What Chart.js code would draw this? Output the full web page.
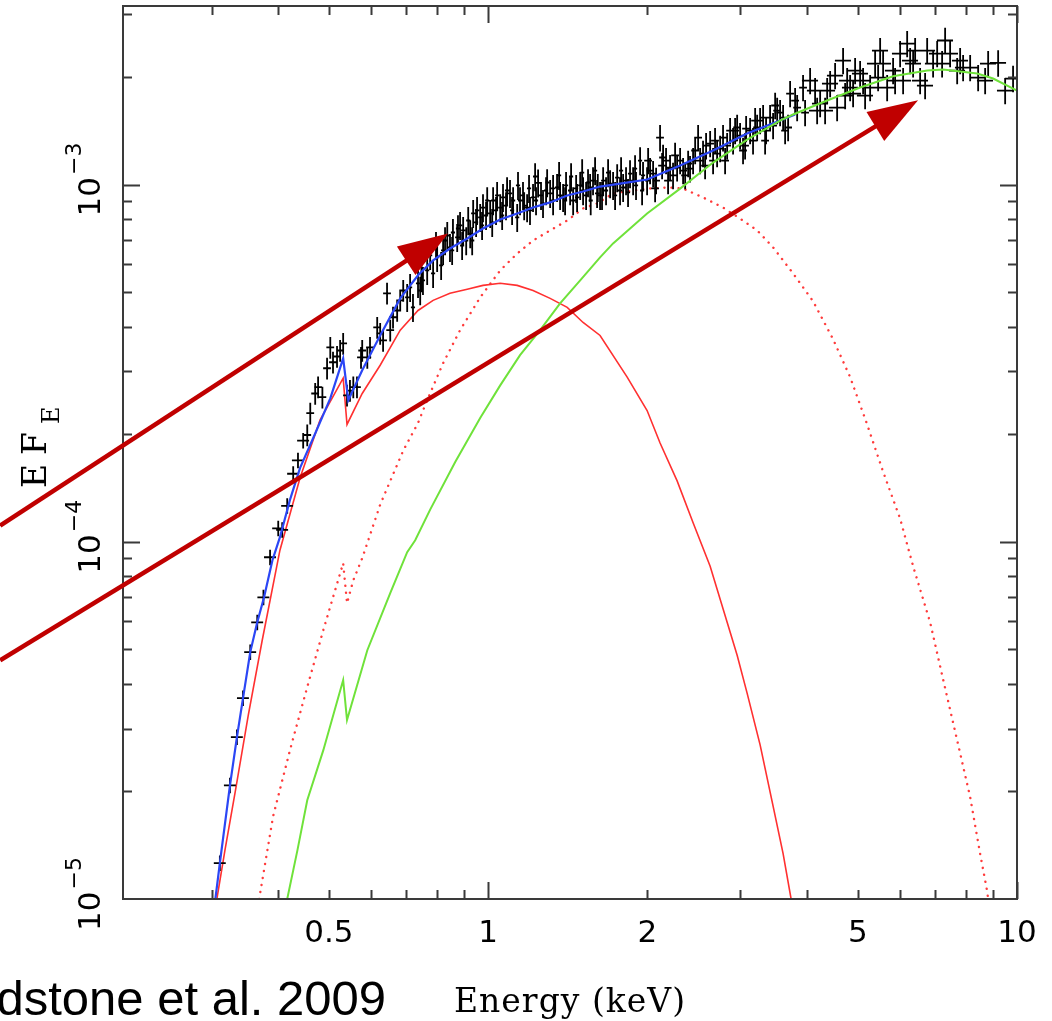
<!DOCTYPE html>
<html>
<head>
<meta charset="utf-8">
<title>EF_E spectrum</title>
<script src="https://cdn.jsdelivr.net/npm/chart.js@4.4.1/dist/chart.umd.min.js"></script>
<style>
  html, body { margin: 0; padding: 0; background: #fff; }
  canvas { display: block; }
</style>
</head>
<body>
<canvas id="spec" width="1052" height="1021"></canvas>
<script>
/* global Chart */

// Observed spectrum (energy keV, E F_E)
const dataE = [0.311, 0.325, 0.335, 0.344, 0.355, 0.366, 0.376, 0.387, 0.401, 0.408, 0.417, 0.428, 0.437, 0.447, 0.455, 0.461, 0.471, 0.477, 0.486, 0.496,
  0.503, 0.509, 0.518, 0.525, 0.532, 0.541, 0.548, 0.556, 0.565, 0.575, 0.578, 0.591, 0.598, 0.617, 0.625, 0.633, 0.644, 0.653, 0.661, 0.673,
  0.682, 0.691, 0.703, 0.712, 0.721, 0.737, 0.744, 0.748, 0.753, 0.767, 0.787, 0.801, 0.822, 0.829, 0.847, 0.858, 0.874, 0.885, 0.897, 0.909,
  0.925, 0.937, 0.949, 0.966, 0.978, 0.991, 1.009, 1.022, 1.035, 1.054, 1.067, 1.081, 1.100, 1.115, 1.135, 1.149, 1.164, 1.185, 1.200, 1.216,
  1.232, 1.243, 1.270, 1.287, 1.310, 1.327, 1.350, 1.368, 1.386, 1.404, 1.429, 1.448, 1.473, 1.493, 1.512, 1.532, 1.559, 1.563, 1.579, 1.607,
  1.612, 1.628, 1.650, 1.671, 1.701, 1.723, 1.754, 1.776, 1.800, 1.823, 1.855, 1.880, 1.904, 1.938, 1.963, 1.998, 2.024, 2.051, 2.078, 2.114,
  2.142, 2.170, 2.208, 2.237, 2.277, 2.307, 2.337, 2.389, 2.409, 2.441, 2.495, 2.517, 2.549, 2.583, 2.629, 2.663, 2.710, 2.746, 2.781, 2.831,
  2.868, 2.905, 2.957, 2.995, 3.034, 3.075, 3.129, 3.169, 3.226, 3.268, 3.311, 3.354, 3.413, 3.458, 3.520, 3.565, 3.612, 3.692, 3.724, 3.840,
  3.940, 4.063, 4.189, 4.244, 4.376, 4.433, 4.570, 4.690, 4.774, 4.836, 4.899, 5.051, 5.117, 5.276, 5.392, 5.463, 5.583, 5.682, 5.831, 6.012,
  6.091, 6.199, 6.280, 6.362, 6.559, 6.763, 6.940, 7.064, 7.218, 7.474, 7.707, 7.909, 8.155, 8.444, 8.820, 9.212, 9.830,
  0.777, 0.797, 0.815, 0.837, 0.855, 0.877, 0.893, 0.917, 0.933, 0.953, 0.974, 0.996, 1.018, 1.040, 1.063, 1.086, 1.110, 1.139, 1.170, 1.195,
  1.227, 1.259, 1.293, 1.327, 1.362, 1.398, 1.435, 1.467, 1.506, 1.545, 1.593, 1.642, 1.686, 1.738, 1.784, 1.839, 1.896, 1.955, 2.007, 2.069,
  2.133, 2.189, 2.257, 2.358, 2.463, 2.572, 2.686, 2.806, 2.931, 3.061, 3.198, 3.340, 3.489, 3.644, 3.806, 3.975, 4.152, 4.337, 4.530, 4.732,
  4.942, 5.162, 5.511, 5.882, 6.418, 6.703, 7.313, 7.807, 8.705, 9.497];
const dataF = [1.26e-5, 2.08e-5, 2.84e-5, 3.65e-5, 4.91e-5, 5.95e-5, 6.99e-5, 9.05e-5, 1.09e-4, 1.08e-4, 1.26e-4, 1.55e-4, 1.69e-4, 1.92e-4, 1.99e-4, 2.29e-4, 2.60e-4, 2.71e-4, 2.54e-4, 3.06e-4,
  3.50e-4, 3.18e-4, 3.30e-4, 3.43e-4, 3.59e-4, 2.57e-4, 2.65e-4, 2.71e-4, 2.71e-4, 3.28e-4, 3.43e-4, 3.28e-4, 3.50e-4, 3.98e-4, 3.83e-4, 3.66e-4, 4.96e-4, 3.91e-4, 4.25e-4, 4.44e-4,
  4.74e-4, 5.05e-4, 4.83e-4, 5.15e-4, 4.53e-4, 5.29e-4, 5.05e-4, 5.49e-4, 5.39e-4, 5.75e-4, 5.64e-4, 6.25e-4, 6.54e-4, 6.97e-4, 6.67e-4, 7.34e-4, 7.11e-4, 7.68e-4, 7.44e-4, 6.97e-4,
  7.29e-4, 8.30e-4, 7.83e-4, 8.09e-4, 8.62e-4, 8.19e-4, 8.30e-4, 9.02e-4, 8.46e-4, 8.62e-4, 9.20e-4, 8.73e-4, 9.44e-4, 9.02e-4, 8.09e-4, 9.02e-4, 9.32e-4, 8.62e-4, 8.46e-4, 9.20e-4,
  9.02e-4, 1.01e-3, 8.85e-4, 9.62e-4, 9.44e-4, 9.02e-4, 9.81e-4, 9.32e-4, 9.20e-4, 9.94e-4, 9.62e-4, 9.02e-4, 9.20e-4, 9.94e-4, 9.62e-4, 9.32e-4, 9.81e-4, 9.02e-4, 1.026e-3, 9.44e-4,
  9.81e-4, 9.32e-4, 1.026e-3, 9.62e-4, 1.006e-3, 9.94e-4, 1.046e-3, 9.62e-4, 9.81e-4, 1.026e-3, 1.073e-3, 1.026e-3, 9.94e-4, 1.167e-3, 1.060e-3, 1.026e-3, 1.094e-3, 1.073e-3, 1.026e-3, 1.353e-3,
  1.190e-3, 1.167e-3, 1.115e-3, 1.060e-3, 1.115e-3, 1.167e-3, 1.094e-3, 1.145e-3, 1.108e-3, 1.167e-3, 1.353e-3, 1.167e-3, 1.221e-3, 1.285e-3, 1.302e-3, 1.167e-3, 1.221e-3, 1.261e-3, 1.353e-3, 1.285e-3,
  1.416e-3, 1.327e-3, 1.444e-3, 1.371e-3, 1.245e-3, 1.434e-3, 1.416e-3, 1.327e-3, 1.444e-3, 1.510e-3, 1.539e-3, 1.416e-3, 1.539e-3, 1.462e-3, 1.611e-3, 1.590e-3, 1.539e-3, 1.444e-3, 1.797e-3, 1.642e-3,
  1.868e-3, 1.954e-3, 1.611e-3, 1.685e-3, 1.832e-3, 1.917e-3, 1.642e-3, 2.223e-3, 1.954e-3, 1.868e-3, 1.797e-3, 2.044e-3, 1.954e-3, 1.868e-3, 2.180e-3, 1.992e-3, 2.180e-3, 1.868e-3, 2.084e-3, 2.326e-3,
  1.954e-3, 2.481e-3, 2.223e-3, 2.180e-3, 1.954e-3, 2.371e-3, 2.180e-3, 2.326e-3, 2.180e-3, 2.326e-3, 2.084e-3, 2.125e-3, 2.125e-3, 1.992e-3, 2.180e-3, 2.190e-3, 1.980e-3,
  6.33e-4, 6.75e-4, 5.94e-4, 7.20e-4, 6.54e-4, 7.53e-4, 6.75e-4, 7.93e-4, 6.97e-4, 8.46e-4, 7.68e-4, 9.02e-4, 7.83e-4, 9.32e-4, 8.19e-4, 9.62e-4, 8.46e-4, 9.94e-4, 8.73e-4, 9.75e-4,
  1.053e-3, 9.32e-4, 1.013e-3, 9.75e-4, 1.060e-3, 9.02e-4, 1.053e-3, 9.75e-4, 1.080e-3, 1.013e-3, 1.094e-3, 9.32e-4, 1.080e-3, 9.32e-4, 1.094e-3, 9.50e-4, 1.108e-3, 9.62e-4, 1.167e-3, 9.75e-4,
  1.130e-3, 1.026e-3, 1.206e-3, 1.060e-3, 1.245e-3, 1.130e-3, 1.327e-3, 1.167e-3, 1.416e-3, 1.285e-3, 1.510e-3, 1.327e-3, 1.664e-3, 1.416e-3, 1.718e-3, 1.590e-3, 1.832e-3, 1.611e-3, 2.018e-3, 1.774e-3,
  2.084e-3, 1.774e-3, 2.371e-3, 1.954e-3, 2.371e-3, 1.892e-3, 2.530e-3, 2.223e-3, 1.954e-3, 1.832e-3];

// error bar half-sizes (fraction of value) per energy band
const errBandTop = [0.45, 0.7, 2, 4, 10];
const yErrFrac = [0.05, 0.07, 0.09, 0.085, 0.085];
const xErrFrac = [0.026, 0.017, 0.009, 0.017, 0.035];

// total model (blue)
const totalE = [0.305, 0.311, 0.325, 0.335, 0.344, 0.355, 0.366, 0.377, 0.391, 0.404, 0.422, 0.441, 0.471, 0.503, 0.532, 0.544, 0.578, 0.625, 0.682, 0.737,
  0.787, 0.847, 0.913, 0.978, 1.054, 1.135, 1.216, 1.310, 1.411, 1.512, 1.628, 1.776, 1.998, 2.307, 2.663, 3.088, 3.565, 3.806];
const totalF = [1.00e-5, 1.26e-5, 2.08e-5, 2.84e-5, 3.65e-5, 4.91e-5, 5.95e-5, 6.99e-5, 8.88e-5, 1.03e-4, 1.31e-4, 1.61e-4, 2.01e-4, 2.52e-4, 3.26e-4, 2.49e-4, 3.02e-4, 3.78e-4, 4.80e-4, 5.57e-4,
  6.13e-4, 6.62e-4, 7.06e-4, 7.53e-4, 7.98e-4, 8.30e-4, 8.62e-4, 8.91e-4, 9.32e-4, 9.56e-4, 9.87e-4, 1.006e-3, 1.033e-3, 1.130e-3, 1.245e-3, 1.389e-3, 1.510e-3, 1.570e-3];

// disc component (red solid)
const discE = [0.307, 0.318, 0.333, 0.352, 0.374, 0.404, 0.441, 0.481, 0.532, 0.541, 0.578, 0.625, 0.682, 0.737, 0.787, 0.847, 0.913, 0.978, 1.054, 1.135,
  1.216, 1.310, 1.411, 1.512, 1.628, 1.832, 1.998, 2.114, 2.277, 2.441, 2.629, 2.831, 2.957, 3.088, 3.268, 3.458, 3.612, 3.740];
const discF = [1.00e-5, 1.37e-5, 2.02e-5, 3.27e-5, 5.30e-5, 9.47e-5, 1.51e-4, 2.19e-4, 2.87e-4, 2.13e-4, 2.60e-4, 3.12e-4, 3.91e-4, 4.44e-4, 4.74e-4, 4.96e-4, 5.09e-4, 5.22e-4, 5.29e-4, 5.22e-4,
  5.05e-4, 4.80e-4, 4.53e-4, 4.11e-4, 3.78e-4, 2.89e-4, 2.33e-4, 1.89e-4, 1.48e-4, 1.13e-4, 8.54e-5, 5.95e-5, 4.81e-5, 3.77e-5, 2.70e-5, 1.82e-5, 1.34e-5, 1.00e-5];

// second component (red dotted)
const dotE = [0.369, 0.392, 0.422, 0.455, 0.488, 0.509, 0.532, 0.541, 0.556, 0.578, 0.625, 0.691, 0.737, 0.767, 0.822, 0.885, 0.966, 1.054, 1.135, 1.216,
  1.310, 1.411, 1.512, 1.607, 1.723, 1.998, 2.208, 2.337, 2.549, 2.781, 2.995, 3.226, 3.458, 3.772, 4.116, 4.490, 4.836, 5.208, 5.583, 6.012,
  6.362, 6.851, 7.249, 7.707, 8.155, 8.517, 8.782, 8.820];
const dotF = [1.00e-5, 1.70e-5, 2.61e-5, 3.92e-5, 5.66e-5, 6.99e-5, 8.71e-5, 6.73e-5, 7.80e-5, 8.99e-5, 1.27e-4, 1.80e-4, 2.15e-4, 2.49e-4, 3.16e-4, 3.91e-4, 4.83e-4, 5.75e-4, 6.41e-4, 6.97e-4,
  7.44e-4, 7.93e-4, 8.57e-4, 8.85e-4, 9.44e-4, 9.74e-4, 9.81e-4, 9.74e-4, 9.20e-4, 8.62e-4, 8.03e-4, 7.44e-4, 6.67e-4, 5.64e-4, 4.71e-4, 3.69e-4, 2.89e-4, 2.13e-4, 1.57e-4, 1.16e-4,
  8.54e-5, 5.95e-5, 4.12e-5, 2.78e-5, 1.93e-5, 1.34e-5, 1.05e-5, 1.00e-5];

// comptonised component (green)
const compE = [0.417, 0.436, 0.455, 0.488, 0.532, 0.541, 0.591, 0.653, 0.703, 0.728, 0.777, 0.866, 0.966, 1.054, 1.149, 1.254, 1.368, 1.493, 1.628, 1.723,
  1.998, 2.307, 2.663, 3.088, 3.565, 3.772, 4.376, 5.051, 5.831, 6.763, 7.249, 8.408, 9.012, 10.0];
const compF = [1.00e-5, 1.37e-5, 1.89e-5, 2.61e-5, 4.10e-5, 3.17e-5, 4.97e-5, 7.18e-5, 9.35e-5, 1.01e-4, 1.23e-4, 1.67e-4, 2.22e-4, 2.74e-4, 3.33e-4, 3.91e-4, 4.65e-4, 5.39e-4, 6.25e-4, 6.84e-4,
  8.30e-4, 9.74e-4, 1.152e-3, 1.336e-3, 1.510e-3, 1.570e-3, 1.718e-3, 1.868e-3, 2.010e-3, 2.084e-3, 2.098e-3, 2.044e-3, 1.980e-3, 1.832e-3];

// axes
const xRange = [0.204, 10];
const yRange = [1e-5, 3.16e-3];
const xTicks = [0.3, 0.4, 0.5, 0.6, 0.7, 0.8, 0.9, 1, 2, 3, 4, 5, 6, 7, 8, 9, 10];
const xMajor = [1, 10];
const xLabelValues = [0.5, 1, 2, 5, 10];
const xTickLabels = ['0.5', '1', '2', '5', '10'];
const yTicks = [2e-5, 3e-5, 4e-5, 5e-5, 6e-5, 7e-5, 8e-5, 9e-5, 1e-4, 2e-4, 3e-4, 4e-4, 5e-4, 6e-4, 7e-4, 8e-4, 9e-4, 1e-3, 2e-3, 3e-3];
const yMajor = [1e-4, 1e-3];
const yLabelValues = [1e-5, 1e-4, 1e-3];
const yLabelExp = ['\u22125', '\u22124', '\u22123'];

// annotation arrows (start / tip in data units)
const arrowFromE = [0.1195, 0.1195];
const arrowFromF = [1.11e-4, 4.66e-5];
const arrowToE = [0.840, 6.50];
const arrowToF = [7.29e-4, 1.72e-3];

function xy(es, fs) { return es.map((e, i) => ({ x: e, y: fs[i] })); }

function band(e) {
  for (let i = 0; i < errBandTop.length; i++) if (e <= errBandTop[i]) return i;
  return errBandTop.length - 1;
}

// crosses as one broken line: horizontal bar, gap, vertical bar, gap
const errorBars = [];
dataE.forEach((e, i) => {
  const f = dataF[i], k = band(e);
  errorBars.push(
    { x: e * (1 - xErrFrac[k]), y: f }, { x: e * (1 + xErrFrac[k]), y: f }, { x: e, y: null },
    { x: e, y: f * (1 - yErrFrac[k]) }, { x: e, y: f * (1 + yErrFrac[k]) }, { x: e, y: null }
  );
});

function drawArrow(ctx, x0, y0, x1, y1) {
  const ang = Math.atan2(y1 - y0, x1 - x0);
  const len = 50, half = 17;
  const c = Math.cos(ang), s = Math.sin(ang);
  const bx = x1 - len * c, by = y1 - len * s;
  ctx.beginPath();
  ctx.moveTo(x0, y0);
  ctx.lineTo(bx + 4 * c, by + 4 * s);
  ctx.stroke();
  ctx.beginPath();
  ctx.moveTo(x1, y1);
  ctx.lineTo(bx + half * s, by - half * c);
  ctx.lineTo(bx - half * s, by + half * c);
  ctx.closePath();
  ctx.fill();
}

const pgAxes = {
  id: 'pgAxes',
  afterDatasetsDraw(chart) {
    const { ctx, chartArea: a, scales: { x, y } } = chart;
    ctx.save();
    ctx.strokeStyle = '#3a3a3a';
    ctx.lineWidth = 2;
    ctx.strokeRect(a.left, a.top, a.right - a.left, a.bottom - a.top);
    ctx.beginPath();
    xTicks.forEach(v => {
      const px = Math.round(x.getPixelForValue(v)) + 0.5;
      const len = xMajor.includes(v) ? 17 : 9;
      ctx.moveTo(px, a.bottom); ctx.lineTo(px, a.bottom - len);
      ctx.moveTo(px, a.top); ctx.lineTo(px, a.top + len);
    });
    yTicks.forEach(v => {
      const py = Math.round(y.getPixelForValue(v)) + 0.5;
      const len = yMajor.some(m => Math.abs(m - v) / m < 1e-6) ? 17 : 9;
      ctx.moveTo(a.left, py); ctx.lineTo(a.left + len, py);
      ctx.moveTo(a.right, py); ctx.lineTo(a.right - len, py);
    });
    ctx.stroke();

    // arrows
    ctx.strokeStyle = '#c00000';
    ctx.fillStyle = '#c00000';
    ctx.lineWidth = 4.5;
    arrowFromE.forEach((e, i) => {
      drawArrow(ctx, x.getPixelForValue(e), y.getPixelForValue(arrowFromF[i]),
        x.getPixelForValue(arrowToE[i]), y.getPixelForValue(arrowToF[i]));
    });
    ctx.restore();
  },
  afterDraw(chart) {
    const { ctx, chartArea: a, scales: { x, y } } = chart;
    ctx.save();
    ctx.fillStyle = '#000';

    // x tick labels
    ctx.font = '31px "DejaVu Sans"';
    ctx.textAlign = 'center';
    ctx.textBaseline = 'alphabetic';
    xLabelValues.forEach((v, i) => {
      ctx.fillText(xTickLabels[i], x.getPixelForValue(v), a.bottom + 43);
    });

    // y tick labels, rotated, 10^-n
    yLabelValues.forEach((v, i) => {
      const py = y.getPixelForValue(v);
      ctx.save();
      ctx.translate(100, py);
      ctx.rotate(-Math.PI / 2);
      ctx.textAlign = 'left';
      ctx.font = '31px "DejaVu Sans"';
      const w1 = ctx.measureText('10').width;
      ctx.font = '22px "DejaVu Sans"';
      const w2 = ctx.measureText(yLabelExp[i]).width;
      const start = 5 - (w1 + w2 + 2) / 2;
      ctx.font = '31px "DejaVu Sans"';
      ctx.fillText('10', start, 0);
      ctx.font = '22px "DejaVu Sans"';
      ctx.fillText(yLabelExp[i], start + w1 + 2, -19);
      ctx.restore();
    });

    // y title: E F_E
    ctx.save();
    ctx.translate(46, 488);
    ctx.rotate(-Math.PI / 2);
    ctx.textAlign = 'left';
    ctx.font = '33px "DejaVu Serif"';
    ctx.fillText('E', 0, 0);
    ctx.fillText('F', 33, 0);
    ctx.font = '24px "DejaVu Serif"';
    ctx.fillText('E', 64, 13);
    ctx.restore();

    // x title
    ctx.font = '33px "DejaVu Serif"';
    ctx.letterSpacing = '1px';
    ctx.textAlign = 'center';
    ctx.fillText('Energy (keV)', (a.left + a.right) / 2, 1012);
    ctx.letterSpacing = '0px';

    // reference
    ctx.font = '49px "Liberation Sans"';
    ctx.textAlign = 'right';
    ctx.fillText('Gladstone et al. 2009', 386, 1015);
    ctx.restore();
  }
};

new Chart(document.getElementById('spec'), {
  type: 'scatter',
  data: {
    datasets: [
      { label: 'Comptonised', data: xy(compE, compF), showLine: true, borderColor: '#6fe23a', borderWidth: 2, pointRadius: 0, order: 0 },
      { label: 'Total model', data: xy(totalE, totalF), showLine: true, borderColor: '#2b46f5', borderWidth: 2.2, pointRadius: 0, order: 1 },
      { label: 'Data', data: errorBars, showLine: true, spanGaps: false, borderColor: '#000', borderWidth: 1.8, pointRadius: 0, order: 2 },
      { label: 'Disc', data: xy(discE, discF), showLine: true, borderColor: '#ff3030', borderWidth: 1.6, pointRadius: 0, order: 3 },
      { label: 'Second disc', data: xy(dotE, dotF), showLine: true, borderColor: '#ff3b3b', borderWidth: 2.4,
        borderDash: [0.1, 7], borderCapStyle: 'round', pointRadius: 0, order: 4 }
    ]
  },
  options: {
    responsive: false,
    animation: false,
    devicePixelRatio: 1,
    layout: { padding: { left: 123, right: 35, top: 6, bottom: 122 } },
    plugins: { legend: { display: false }, tooltip: { enabled: false } },
    elements: { line: { tension: 0 } },
    scales: {
      x: { type: 'logarithmic', min: xRange[0], max: xRange[1], display: false },
      y: { type: 'logarithmic', min: yRange[0], max: yRange[1], display: false }
    }
  },
  plugins: [pgAxes]
});
</script>
</body>
</html>
